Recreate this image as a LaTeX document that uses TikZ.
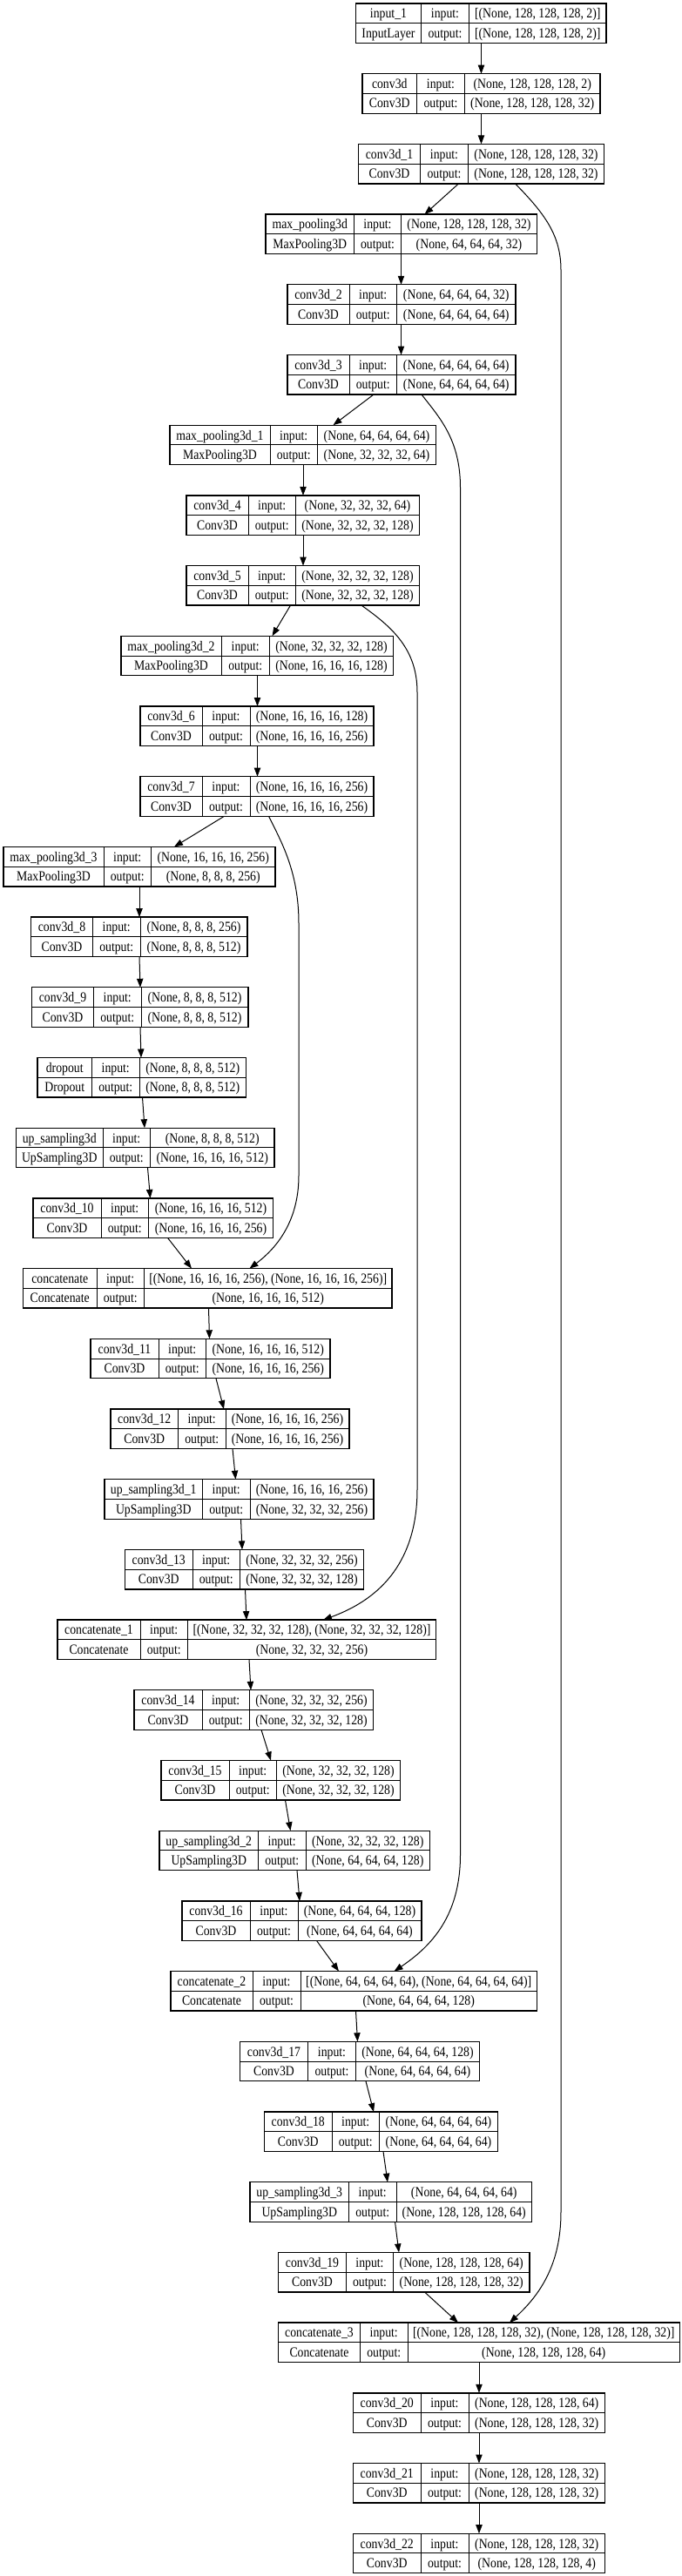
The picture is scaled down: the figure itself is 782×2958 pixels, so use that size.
\documentclass[tikz,border=0pt]{standalone}
\usepackage{fontspec}
\setmainfont{Liberation Serif}[FakeStretch=0.86]
\usetikzlibrary{arrows.meta}
\tikzset{
  layerbox/.style={draw=black, line width=1pt, inner sep=0pt, outer sep=0pt, anchor=north west},
  cellline/.style={line width=0.75pt},
  celltext/.style={inner sep=0pt, anchor=base, font=\fontsize{12pt}{14pt}\selectfont},
  arr/.style={line width=0.75pt, -{Triangle[length=7.5pt,width=5.5pt]}},
}
% #1 index, #2 left, #3 col1, #4 col2, #5 right, #6 name, #7 class, #8 input shape, #9 output shape
\newcommand\klayer[9]{%
  \pgfmathsetmacro\kT{4+80.7*#1}%
  \pgfmathsetmacro\kB{\kT+45.5}%
  \pgfmathsetmacro\kM{\kT+22.75}%
  \node[layerbox, minimum width={(#5-#2)*0.75pt}, minimum height={45.5*0.75pt}] (n#1) at (#2,\kT) {};
  \draw[cellline] (#2,\kM) -- (#5,\kM) (#3,\kT) -- (#3,\kB) (#4,\kT) -- (#4,\kB);
  \node[celltext] at ({(#2+#3)/2},\kT+16.8) {#6};
  \node[celltext] at ({(#2+#3)/2},\kT+39.3) {#7};
  \node[celltext] at ({(#3+#4)/2},\kT+16.8) {input:};
  \node[celltext] at ({(#3+#4)/2},\kT+39.3) {output:};
  \node[celltext] at ({(#4+#5)/2},\kT+16.8) {#8};
  \node[celltext] at ({(#4+#5)/2},\kT+39.3) {#9};
}
\newcommand\kedge[4]{\draw[arr] (#2,0 |- n#1.south) -- (#4,0 |- n#3.north);}
\begin{document}
\begin{tikzpicture}[x=0.75pt, y=-0.75pt]
\fill[white] (0,0) rectangle (782,2958);
\useasboundingbox (0,0) rectangle (782,2958);

\klayer{0}{408.5}{483.5}{538.5}{696}{input\_1}{InputLayer}{[(None, 128, 128, 128, 2)]}{[(None, 128, 128, 128, 2)]}
\klayer{1}{416}{478.5}{533.5}{689}{conv3d}{Conv3D}{(None, 128, 128, 128, 2)}{(None, 128, 128, 128, 32)}
\klayer{2}{411.5}{482.5}{537.5}{693.5}{conv3d\_1}{Conv3D}{(None, 128, 128, 128, 32)}{(None, 128, 128, 128, 32)}
\klayer{3}{305}{406.5}{460.5}{616.5}{max\_pooling3d}{MaxPooling3D}{(None, 128, 128, 128, 32)}{(None, 64, 64, 64, 32)}
\klayer{4}{330}{401}{455.5}{592}{conv3d\_2}{Conv3D}{(None, 64, 64, 64, 32)}{(None, 64, 64, 64, 64)}
\klayer{5}{330}{401}{455.5}{592}{conv3d\_3}{Conv3D}{(None, 64, 64, 64, 64)}{(None, 64, 64, 64, 64)}
\klayer{6}{195}{310}{364.5}{500.5}{max\_pooling3d\_1}{MaxPooling3D}{(None, 64, 64, 64, 64)}{(None, 32, 32, 32, 64)}
\klayer{7}{214}{285}{339.5}{481.5}{conv3d\_4}{Conv3D}{(None, 32, 32, 32, 64)}{(None, 32, 32, 32, 128)}
\klayer{8}{214}{285}{339.5}{481.5}{conv3d\_5}{Conv3D}{(None, 32, 32, 32, 128)}{(None, 32, 32, 32, 128)}
\klayer{9}{139}{254}{309.5}{451.5}{max\_pooling3d\_2}{MaxPooling3D}{(None, 32, 32, 32, 128)}{(None, 16, 16, 16, 128)}
\klayer{10}{161}{232}{287}{429}{conv3d\_6}{Conv3D}{(None, 16, 16, 16, 128)}{(None, 16, 16, 16, 256)}
\klayer{11}{161}{232}{287}{429}{conv3d\_7}{Conv3D}{(None, 16, 16, 16, 256)}{(None, 16, 16, 16, 256)}
\klayer{12}{4}{119}{173.5}{316}{max\_pooling3d\_3}{MaxPooling3D}{(None, 16, 16, 16, 256)}{(None, 8, 8, 8, 256)}
\klayer{13}{35.5}{106.5}{161}{284}{conv3d\_8}{Conv3D}{(None, 8, 8, 8, 256)}{(None, 8, 8, 8, 512)}
\klayer{14}{36.5}{107.5}{162}{285}{conv3d\_9}{Conv3D}{(None, 8, 8, 8, 512)}{(None, 8, 8, 8, 512)}
\klayer{15}{43}{105.5}{160}{282.5}{dropout}{Dropout}{(None, 8, 8, 8, 512)}{(None, 8, 8, 8, 512)}
\klayer{16}{18.5}{118}{172.5}{315}{up\_sampling3d}{UpSampling3D}{(None, 8, 8, 8, 512)}{(None, 16, 16, 16, 512)}
\klayer{17}{38}{116}{170.5}{313.5}{conv3d\_10}{Conv3D}{(None, 16, 16, 16, 512)}{(None, 16, 16, 16, 256)}
\klayer{18}{26.5}{111}{165.5}{450}{concatenate}{Concatenate}{[(None, 16, 16, 16, 256), (None, 16, 16, 16, 256)]}{(None, 16, 16, 16, 512)}
\klayer{19}{104}{182}{236.5}{379}{conv3d\_11}{Conv3D}{(None, 16, 16, 16, 512)}{(None, 16, 16, 16, 256)}
\klayer{20}{127}{204.5}{259}{401}{conv3d\_12}{Conv3D}{(None, 16, 16, 16, 256)}{(None, 16, 16, 16, 256)}
\klayer{21}{120}{232.5}{287}{429}{up\_sampling3d\_1}{UpSampling3D}{(None, 16, 16, 16, 256)}{(None, 32, 32, 32, 256)}
\klayer{22}{143.5}{221}{275.5}{417.5}{conv3d\_13}{Conv3D}{(None, 32, 32, 32, 256)}{(None, 32, 32, 32, 128)}
\klayer{23}{66}{161}{215.5}{500.5}{concatenate\_1}{Concatenate}{[(None, 32, 32, 32, 128), (None, 32, 32, 32, 128)]}{(None, 32, 32, 32, 256)}
\klayer{24}{154}{232}{286.5}{428.5}{conv3d\_14}{Conv3D}{(None, 32, 32, 32, 256)}{(None, 32, 32, 32, 128)}
\klayer{25}{185}{263}{317.5}{459.5}{conv3d\_15}{Conv3D}{(None, 32, 32, 32, 128)}{(None, 32, 32, 32, 128)}
\klayer{26}{183}{296.5}{351}{493.5}{up\_sampling3d\_2}{UpSampling3D}{(None, 32, 32, 32, 128)}{(None, 64, 64, 64, 128)}
\klayer{27}{209}{287}{342}{484}{conv3d\_16}{Conv3D}{(None, 64, 64, 64, 128)}{(None, 64, 64, 64, 64)}
\klayer{28}{196}{290}{345}{616.5}{concatenate\_2}{Concatenate}{[(None, 64, 64, 64, 64), (None, 64, 64, 64, 64)]}{(None, 64, 64, 64, 128)}
\klayer{29}{275.5}{353.5}{408.5}{550.5}{conv3d\_17}{Conv3D}{(None, 64, 64, 64, 128)}{(None, 64, 64, 64, 64)}
\klayer{30}{303.5}{381}{435.5}{571.5}{conv3d\_18}{Conv3D}{(None, 64, 64, 64, 64)}{(None, 64, 64, 64, 64)}
\klayer{31}{287}{400.5}{455}{610.5}{up\_sampling3d\_3}{UpSampling3D}{(None, 64, 64, 64, 64)}{(None, 128, 128, 128, 64)}
\klayer{32}{319.5}{397.5}{451.5}{608}{conv3d\_19}{Conv3D}{(None, 128, 128, 128, 64)}{(None, 128, 128, 128, 32)}
\klayer{33}{319.5}{413.5}{468}{780.5}{concatenate\_3}{Concatenate}{[(None, 128, 128, 128, 32), (None, 128, 128, 128, 32)]}{(None, 128, 128, 128, 64)}
\klayer{34}{405.5}{483}{538}{694.5}{conv3d\_20}{Conv3D}{(None, 128, 128, 128, 64)}{(None, 128, 128, 128, 32)}
\klayer{35}{405.5}{483}{538}{694.5}{conv3d\_21}{Conv3D}{(None, 128, 128, 128, 32)}{(None, 128, 128, 128, 32)}
\klayer{36}{405.5}{483}{538}{694.5}{conv3d\_22}{Conv3D}{(None, 128, 128, 128, 32)}{(None, 128, 128, 128, 4)}

% straight edges
\kedge{0}{552.5}{1}{552.5}
\kedge{1}{552.5}{2}{552.5}
\kedge{2}{526.5}{3}{487.5}
\kedge{3}{460.5}{4}{460.5}
\kedge{4}{460.5}{5}{460.5}
\kedge{5}{429}{6}{382.5}
\kedge{6}{348}{7}{348}
\kedge{7}{348}{8}{348}
\kedge{8}{333.5}{9}{312.5}
\kedge{9}{295.5}{10}{295.5}
\kedge{10}{295.5}{11}{295.5}
\kedge{11}{257.5}{12}{200}
\kedge{12}{160}{13}{160}
\kedge{13}{160}{14}{161}
\kedge{14}{161}{15}{162}
\kedge{15}{163.5}{16}{166}
\kedge{16}{169.5}{17}{172.5}
\kedge{17}{192.5}{18}{220}
\kedge{18}{239.5}{19}{240.5}
\kedge{19}{248}{20}{257}
\kedge{20}{267}{21}{270.5}
\kedge{21}{276.5}{22}{278}
\kedge{22}{281.5}{23}{283}
\kedge{23}{286}{24}{288}
\kedge{24}{300}{25}{311}
\kedge{25}{327.5}{26}{333.5}
\kedge{26}{341}{27}{344}
\kedge{27}{363.5}{28}{389}
\kedge{28}{408.5}{29}{410.5}
\kedge{29}{420}{30}{429}
\kedge{30}{440}{31}{445}
\kedge{31}{453.5}{32}{458}
\kedge{32}{487.5}{33}{526}
\kedge{33}{550}{34}{550}
\kedge{34}{550}{35}{550}
\kedge{35}{550}{36}{550}

% skip connections
\draw[arr] (591.5,0 |- n2.south) .. controls (625,245) and (644,270) .. (644,310)
  -- (644,2540) .. controls (644,2600) and (620,2635) .. (585,0 |- n33.north);
\draw[arr] (484,0 |- n5.south) .. controls (505,480) and (528.5,505) .. (528.5,560)
  -- (528.5,2130) .. controls (528.5,2200) and (495,2235) .. (452.5,0 |- n28.north);
\draw[arr] (415,0 |- n8.south) .. controls (450,720) and (479,745) .. (479,795)
  -- (479,1710) .. controls (479,1790) and (440,1835) .. (371,0 |- n23.north);
\draw[arr] (308.5,0 |- n11.south) .. controls (322,965) and (343,1000) .. (343,1060)
  -- (343,1350) .. controls (343,1405) and (315,1435) .. (286.5,0 |- n18.north);
\end{tikzpicture}
\end{document}
